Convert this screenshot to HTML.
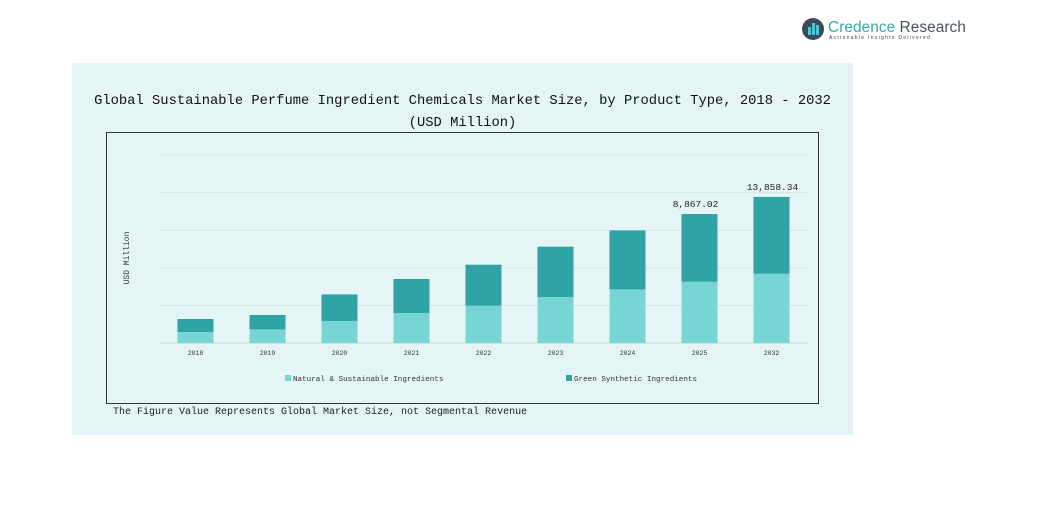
<!DOCTYPE html>
<html><head><meta charset="utf-8"><style>
body{margin:0;width:1038px;height:521px;background:#fff;position:relative;overflow:hidden;font-family:"Liberation Mono","Noto Sans CJK SC",monospace}
.abs{position:absolute}
</style></head><body>
<div class="abs" style="left:800px;top:14px;width:170px;height:32px">
<svg width="170" height="32"><circle cx="13" cy="15" r="11" fill="#3d4a5a"/><rect x="8" y="13" width="3" height="8" fill="#4cc6cf"/><rect x="12" y="9" width="3" height="12" fill="#4cc6cf"/><rect x="16" y="11" width="3" height="10" fill="#4cc6cf"/>
<text x="28" y="18" font-family="Liberation Sans, sans-serif" font-size="15.5" fill="#3aa7b3">Credence <tspan fill="#4a5563">Research</tspan></text>
<text x="29" y="25" font-family="Liberation Sans, sans-serif" font-size="5" letter-spacing="1.3" fill="#444">Actionable Insights Delivered</text></svg></div>
<div class="abs" style="left:72px;top:63px;width:781px;height:372px;background:#e5f5f6"></div>
<div class="abs" style="left:72px;top:91px;width:781px;text-align:center;font-size:13.8px;line-height:22px;color:#111;white-space:nowrap">Global Sustainable Perfume Ingredient Chemicals Market Size, by Product Type, 2018 - 2032<br>(USD Million)</div>
<div class="abs" style="left:106px;top:132px;width:711px;height:270px;border:1px solid #333"></div>
<svg class="abs" style="left:0;top:0" width="1038" height="521" id="chart"></svg>
<div class="abs" style="left:113px;top:407px;font-size:10px;color:#222">The Figure Value Represents Global Market Size, not Segmental Revenue</div>
<script>
const categories=["2018","2019","2020","2021","2022","2023","2024","2025","2032"];
const naturalValues=[1044,1290,2087,2846,3539,4364,5085,5816,6575];
const greenValues=[1233,1367,2524,3226,3890,4773,5598,6423,7283];
const valueLabels=["","","","","","","","8,867.02","13,858.34"];
const yTicks=[0,3567,7134,10701,14268,17835];
const svg=document.getElementById('chart');const NS='http://www.w3.org/2000/svg';
const x0=160,x1=808,yBase=343,yTop=155,yMax=17835;
const y=v=>yBase-(v/yMax)*(yBase-yTop);
const step=(x1-x0)/categories.length;const xc=i=>x0+step*(i+0.5)-0.5;const bw=36;
function mk(t,a){const e=document.createElementNS(NS,t);for(const k in a)e.setAttribute(k,a[k]);svg.appendChild(e);return e;}
yTicks.forEach((t,i)=>{const l=mk('line',{x1:x0,x2:x1,y1:y(t),y2:y(t),stroke:i==0?'#c8d8da':'#d3e6e8','stroke-width':1});

});
categories.forEach((c,i)=>{
const n=naturalValues[i],g=greenValues[i];
const r1=mk('rect',{x:xc(i)-bw/2,y:y(n),width:bw,height:yBase-y(n),fill:'#78d5d5'});


const r2=mk('rect',{x:xc(i)-bw/2,y:y(n+g),width:bw,height:y(n)-y(n+g),fill:'#30a3a4'});


const tx=mk('text',{x:xc(i),y:355,'font-size':6.5,'text-anchor':'middle',fill:'#333'});tx.textContent=c;


if(valueLabels[i]){const vl=mk('text',{x:xc(i)-(i==7?4:-1),y:y(n+g)-7,'font-size':9.5,'text-anchor':'middle',fill:'#222'});vl.textContent=valueLabels[i];

}
});
const yl=mk('text',{x:0,y:0,'font-size':8,'text-anchor':'middle',fill:'#333',transform:'translate(129,258) rotate(-90)'});yl.textContent='USD Million';


[[285,'#78d5d5','Natural & Sustainable Ingredients'],[566,'#30a3a4','Green Synthetic Ingredients']].forEach(([lx,col,lab])=>{
const s=mk('rect',{x:lx,y:375,width:6,height:6,fill:col});


const t=mk('text',{x:lx+8,y:381,'font-size':7.6,fill:'#333'});t.textContent=lab;

});
</script>
</body></html>
